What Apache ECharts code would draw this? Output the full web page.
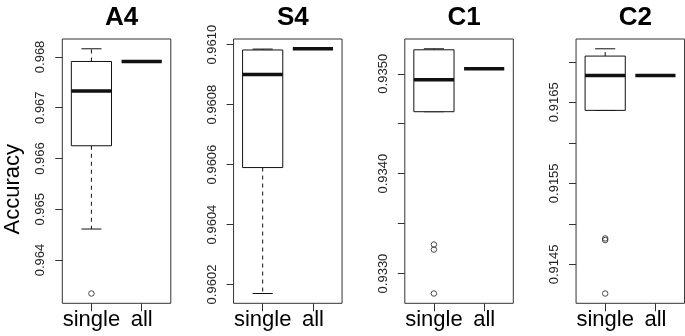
<!DOCTYPE html>
<html>
<head>
<meta charset="utf-8">
<script src="https://cdn.jsdelivr.net/npm/echarts@6/dist/echarts.min.js"></script>
<style>
html, body { margin: 0; padding: 0; background: #fff; }
#chart { width: 685px; height: 336px; }
</style>
</head>
<body>
<div id="chart"></div>
<script>
const panels = ['A4', 'S4', 'C1', 'C2'];
const categories = ['single', 'all'];

// single: lower whisker, Q1, median, Q3, upper whisker
const singleA4 = [0.96461, 0.96625, 0.96733, 0.96791, 0.96816];
const singleS4 = [0.96017, 0.96059, 0.96090, 0.960982, 0.960985];
const singleC1 = [0.93462, 0.93462, 0.93494, 0.93524, 0.93525];
const singleC2 = [0.91640, 0.91640, 0.91683, 0.91707, 0.91716];

// all: one value each
const allA4 = 0.96791;
const allS4 = 0.960986;
const allC1 = 0.93505;
const allC2 = 0.91683;

// outliers of single
const outA4 = [0.96334];
const outS4 = [];
const outC1 = [0.93329, 0.93324, 0.93280];
const outC2 = [0.91482, 0.91480, 0.91414];

// y ticks and tick labels
const ticksA4 = ['0.964', '0.965', '0.966', '0.967', '0.968'];
const labelsA4 = ['0.964', '0.965', '0.966', '0.967', '0.968'];
const ticksS4 = ['0.9602', '0.9604', '0.9606', '0.9608', '0.9610'];
const labelsS4 = ['0.9602', '0.9604', '0.9606', '0.9608', '0.9610'];
const ticksC1 = ['0.9330', '0.9335', '0.9340', '0.9345', '0.9350'];
const labelsC1 = ['0.9330', '0.9340', '0.9350'];
const ticksC2 = ['0.9145', '0.9150', '0.9155', '0.9160', '0.9165', '0.9170'];
const labelsC2 = ['0.9145', '0.9155', '0.9165'];

const singles = [singleA4, singleS4, singleC1, singleC2];
const alls = [allA4, allS4, allC1, allC2];
const outs = [outA4, outS4, outC1, outC2];
const ticks = [ticksA4, ticksS4, ticksC1, ticksC2];
const labels = [labelsA4, labelsS4, labelsC1, labelsC2];

const font = 'Liberation Sans, Arial, sans-serif';
const ink = '#111';
const frame = '#333';
const panelStep = 171.25;
const gridLeft = 62.3;
const gridWidth = 108.5;

function renderBox(params, api) {
  const x = api.value(0);
  const v = [1, 2, 3, 4, 5].map(k => api.value(k));
  const p = v.map(val => api.coord([x, val])[1]);
  const cx = api.coord([x, v[2]])[0];
  const w = api.size([0.8, 0])[0];
  const children = [];
  if (v[3] > v[1]) {
    const dash = { stroke: ink, lineWidth: 1, lineDash: [4, 4] };
    const solid = { stroke: ink, lineWidth: 1 };
    if (v[4] > v[3]) {
      children.push({ type: 'line', shape: { x1: cx, y1: p[3], x2: cx, y2: p[4] }, style: dash });
    }
    if (v[0] < v[1]) {
      children.push({ type: 'line', shape: { x1: cx, y1: p[1], x2: cx, y2: p[0] }, style: dash });
    }
    children.push({ type: 'line', shape: { x1: cx - w / 4, y1: p[4], x2: cx + w / 4, y2: p[4] }, style: solid });
    children.push({ type: 'line', shape: { x1: cx - w / 4, y1: p[0], x2: cx + w / 4, y2: p[0] }, style: solid });
    children.push({
      type: 'rect',
      shape: { x: cx - w / 2, y: p[3], width: w, height: p[1] - p[3] },
      style: { fill: '#fff', stroke: ink, lineWidth: 1 }
    });
  }
  // thick median
  children.push({
    type: 'line',
    shape: { x1: cx - w / 2, y1: p[2], x2: cx + w / 2, y2: p[2] },
    style: { stroke: ink, lineWidth: 3.5 }
  });
  return { type: 'group', children: children };
}

const grid = [];
const xAxis = [];
const yAxis = [];
const series = [];
const title = [];

panels.forEach((name, i) => {
  const left = gridLeft + i * panelStep;
  grid.push({
    left: left, top: 39, width: gridWidth, height: 264.3,
    show: true, borderColor: frame, borderWidth: 1
  });
  title.push({
    text: name, left: left + gridWidth / 2, top: 0, textAlign: 'center',
    textStyle: { fontSize: 26, fontWeight: 'bold', color: '#000', fontFamily: font }
  });

  // R style 4% padding on both axes
  const vals = singles[i].concat([alls[i]], outs[i]);
  const lo = Math.min.apply(null, vals);
  const hi = Math.max.apply(null, vals);
  const pad = (hi - lo) * 0.04;

  xAxis.push({
    gridIndex: i, type: 'value', min: 0.42, max: 2.58,
    axisLine: { show: false },
    splitLine: { show: false },
    axisTick: { show: true, length: 8, customValues: [1, 2], lineStyle: { color: frame } },
    axisLabel: {
      customValues: [1, 2], margin: 6, fontSize: 22, color: '#000', fontFamily: font,
      formatter: v => categories[Math.round(v) - 1]
    }
  });

  const labs = labels[i];
  yAxis.push({
    gridIndex: i, type: 'value', min: lo - pad, max: hi + pad,
    name: i === 0 ? 'Accuracy' : '',
    nameLocation: 'middle', nameGap: 38, nameRotate: 90,
    nameTextStyle: { fontSize: 22, color: '#000', fontFamily: font, padding: [0, 36, 0, 0] },
    axisLine: { show: false },
    splitLine: { show: false },
    axisTick: { show: true, length: 7, customValues: ticks[i].map(Number), lineStyle: { color: frame } },
    axisLabel: {
      customValues: labs.map(Number), rotate: 90, margin: 15, fontSize: 13,
      color: '#222', fontFamily: font,
      formatter: v => labs.find(s => Math.abs(Number(s) - v) < 1e-9) || ''
    }
  });

  series.push({
    type: 'custom',
    xAxisIndex: i, yAxisIndex: i,
    renderItem: renderBox,
    encode: { x: 0, y: [1, 2, 3, 4, 5] },
    data: [
      [1].concat(singles[i]),
      [2, alls[i], alls[i], alls[i], alls[i], alls[i]]
    ]
  });
  // outlier points, open circles
  series.push({
    type: 'scatter',
    xAxisIndex: i, yAxisIndex: i,
    symbol: 'circle', symbolSize: 5.5,
    itemStyle: { color: 'rgba(0,0,0,0)', borderColor: '#222', borderWidth: 1 },
    data: outs[i].map(v => [1, v])
  });
});

const chart = echarts.init(document.getElementById('chart'));
chart.setOption({
  animation: false,
  backgroundColor: '#fff',
  title: title,
  grid: grid,
  xAxis: xAxis,
  yAxis: yAxis,
  series: series
});
</script>
</body>
</html>
